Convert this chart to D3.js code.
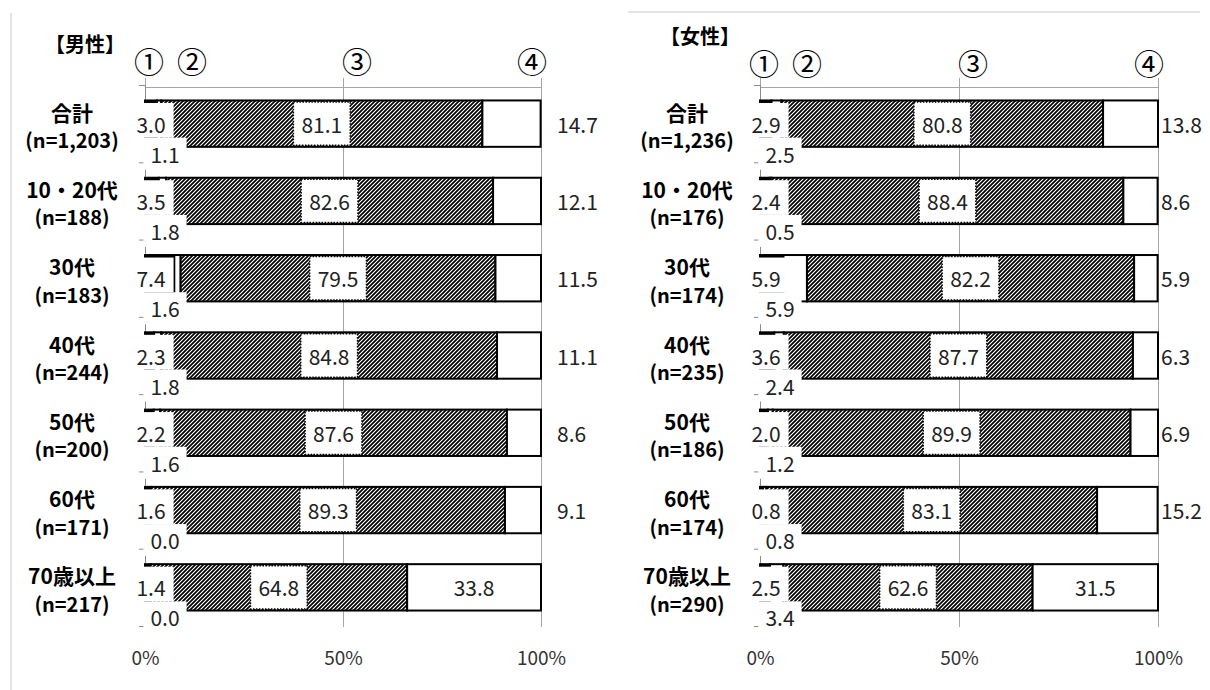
<!DOCTYPE html>
<html>
<head>
<meta charset="utf-8">
<script src="https://cdn.jsdelivr.net/npm/d3@7"></script>
<style>
  body { margin: 0; background: #fff; }
</style>
</head>
<body>
<div id="chart"></div>
<script>
// categories and values
const categories = ["合計", "10・20代", "30代", "40代", "50代", "60代", "70歳以上"];

const menN = ["1,203", "188", "183", "244", "200", "171", "217"];
const men1 = [3.0, 3.5, 7.4, 2.3, 2.2, 1.6, 1.4];
const men2 = [1.1, 1.8, 1.6, 1.8, 1.6, 0.0, 0.0];
const men3 = [81.1, 82.6, 79.5, 84.8, 87.6, 89.3, 64.8];
const men4 = [14.7, 12.1, 11.5, 11.1, 8.6, 9.1, 33.8];

const womenN = ["1,236", "176", "174", "235", "186", "174", "290"];
const women1 = [2.9, 2.4, 5.9, 3.6, 2.0, 0.8, 2.5];
const women2 = [2.5, 0.5, 5.9, 2.4, 1.2, 0.8, 3.4];
const women3 = [80.8, 88.4, 82.2, 87.7, 89.9, 83.1, 62.6];
const women4 = [13.8, 8.6, 5.9, 6.3, 6.9, 15.2, 31.5];

const tickValues = [0, 50, 100];
const tickLabels = ["0%", "50%", "100%"];
const headers = ["①", "②", "③", "④"];

const FONT = "'Noto Sans CJK JP', 'Noto Sans', sans-serif";
const width = 1210, height = 690;

const svg = d3.select("#chart").append("svg")
    .attr("width", width)
    .attr("height", height)
    .style("font-family", FONT);

svg.append("rect").attr("width", width).attr("height", height).attr("fill", "#fff");

// diagonal hatch used for segment ③
const defs = svg.append("defs");
const pat = defs.append("pattern")
    .attr("id", "hatch")
    .attr("patternUnits", "userSpaceOnUse")
    .attr("width", 4).attr("height", 4);
pat.append("rect").attr("width", 4).attr("height", 4).attr("fill", "#fff");
pat.append("path")
    .attr("d", "M-1,1 l2,-2 M0,4 l4,-4 M3,5 l2,-2")
    .attr("stroke", "#000")
    .attr("stroke-width", 1.7);

// light frame lines seen in the picture
svg.append("line").attr("x1", 11).attr("x2", 11).attr("y1", 13).attr("y2", 690)
    .attr("stroke", "#c8c8c8");
svg.append("line").attr("x1", 628).attr("x2", 1200).attr("y1", 12).attr("y2", 12)
    .attr("stroke", "#c8c8c8");

function drawPanel(p) {
    const x = d3.scaleLinear().domain([0, 100]).range([p.left, p.right]);
    const y = d3.scaleBand().domain(categories).range([85, 626])
        .paddingInner(0.4).paddingOuter(0.2);
    const g = svg.append("g");

    // gridlines + bottom percent labels
    g.append("g")
        .attr("transform", "translate(0,627)")
        .call(d3.axisBottom(x).tickValues(tickValues)
            .tickFormat((d, i) => tickLabels[i])
            .tickSize(-(627 - 78)).tickPadding(25))
        .call(a => {
            a.select(".domain").remove();
            a.selectAll("line").attr("stroke", "#a6a6a6");
            a.selectAll("text").attr("font-size", 19).attr("fill", "#333")
                .attr("font-family", FONT);
        });

    // top line
    g.append("g")
        .attr("transform", "translate(0,87)")
        .call(d3.axisTop(x).tickValues([]).tickSizeOuter(0))
        .select(".domain").attr("stroke", "#a6a6a6");

    // left axis with ticks on category boundaries
    const yb = d3.scaleLinear().domain([0, categories.length]).range(y.range());
    g.append("g")
        .attr("transform", `translate(${x(0)},0)`)
        .call(d3.axisLeft(yb).tickValues(d3.range(categories.length + 1))
            .tickFormat("").tickSize(6).tickSizeOuter(0))
        .call(a => {
            a.select(".domain").attr("stroke", "#8c8c8c");
            a.selectAll("line").attr("stroke", "#8c8c8c");
        });

    // title and circled headers
    g.append("text")
        .attr("x", x(0) - 60).attr("y", p.titleY)
        .attr("text-anchor", "middle").attr("dominant-baseline", "central")
        .attr("font-size", 20).attr("font-weight", "bold")
        .text(p.title);

    const headerX = [x(0) + 4, x(0) + 47, x(50) + 14, x(100) - 9];
    g.selectAll(".hdr").data(headers).enter().append("text")
        .attr("class", "hdr")
        .attr("x", (d, i) => headerX[i]).attr("y", p.headerY)
        .attr("text-anchor", "middle").attr("dominant-baseline", "central")
        .attr("font-size", 30)
        .text(d => d);

    const rows = categories.map((c, i) => {
        const v = [p.s1[i], p.s2[i], p.s3[i], p.s4[i]];
        const starts = [0, v[0], v[0] + v[1], v[0] + v[1] + v[2]];
        return { c, n: p.n[i], v, starts };
    });

    const fills = ["#000", "#fff", "url(#hatch)", "#fff"];

    // bars
    rows.forEach(r => {
        r.v.forEach((val, k) => {
            g.append("rect")
                .attr("x", x(r.starts[k]))
                .attr("y", y(r.c))
                .attr("width", x(r.starts[k] + val) - x(r.starts[k]))
                .attr("height", y.bandwidth())
                .attr("fill", fills[k])
                .attr("stroke", "#000")
                .attr("stroke-width", 2);
        });
    });

    // label with optional white box from y0 to y1
    function boxedLabel(tx, ty, txt, padX, y0, y1, dotted, anchor) {
        const t = g.append("text")
            .attr("x", tx).attr("y", ty)
            .attr("text-anchor", anchor || "middle")
            .attr("dominant-baseline", "central")
            .attr("font-size", 21).attr("fill", "#222")
            .text(txt);
        if (y1 > y0) {
            const w = t.node().getComputedTextLength();
            g.insert("rect", () => t.node())
                .attr("x", tx - w / 2 - padX).attr("y", y0)
                .attr("width", w + padX * 2).attr("height", y1 - y0)
                .attr("fill", "#fff")
                .attr("stroke", dotted ? "#000" : "none")
                .attr("stroke-width", 1.5)
                .attr("stroke-dasharray", dotted ? "1.5,1.5" : null);
        }
    }

    rows.forEach(r => {
        const top = y(r.c), bot = y(r.c) + y.bandwidth();
        const cy = (top + bot) / 2;
        // category label
        g.append("text")
            .attr("x", x(0) - 73).attr("y", cy - 12)
            .attr("text-anchor", "middle").attr("dominant-baseline", "central")
            .attr("font-size", 21).attr("font-weight", "bold")
            .text(r.c);
        g.append("text")
            .attr("x", x(0) - 73).attr("y", cy + 16)
            .attr("text-anchor", "middle").attr("dominant-baseline", "central")
            .attr("font-size", 20).attr("font-weight", "bold")
            .text(`(n=${r.n})`);

        // value labels
        boxedLabel(x(0) + 6, cy, r.v[0].toFixed(1), 8, top + 2.5, cy + 14, false);
        boxedLabel(x(0) + 20, cy + 30, r.v[1].toFixed(1), 7, cy + 14, cy + 46, false);
        const mid3 = x(r.starts[2] + r.v[2] / 2);
        boxedLabel(mid3, cy, r.v[2].toFixed(1), 8, top + 1.5, bot - 1.5, true);
        if (r.v[3] > 20) {
            boxedLabel(x(r.starts[3] + r.v[3] / 2), cy, r.v[3].toFixed(1), 0, 0, 0, false);
        } else {
            boxedLabel(x(100) + p.outOffset, cy, r.v[3].toFixed(1), 0, 0, 0, false, "start");
        }
    });
}

drawPanel({
    title: "【男性】", titleY: 43, headerY: 60,
    left: 145, right: 541, outOffset: 16,
    n: menN, s1: men1, s2: men2, s3: men3, s4: men4
});

drawPanel({
    title: "【女性】", titleY: 35, headerY: 62,
    left: 760, right: 1158, outOffset: 3,
    n: womenN, s1: women1, s2: women2, s3: women3, s4: women4
});
</script>
</body>
</html>
